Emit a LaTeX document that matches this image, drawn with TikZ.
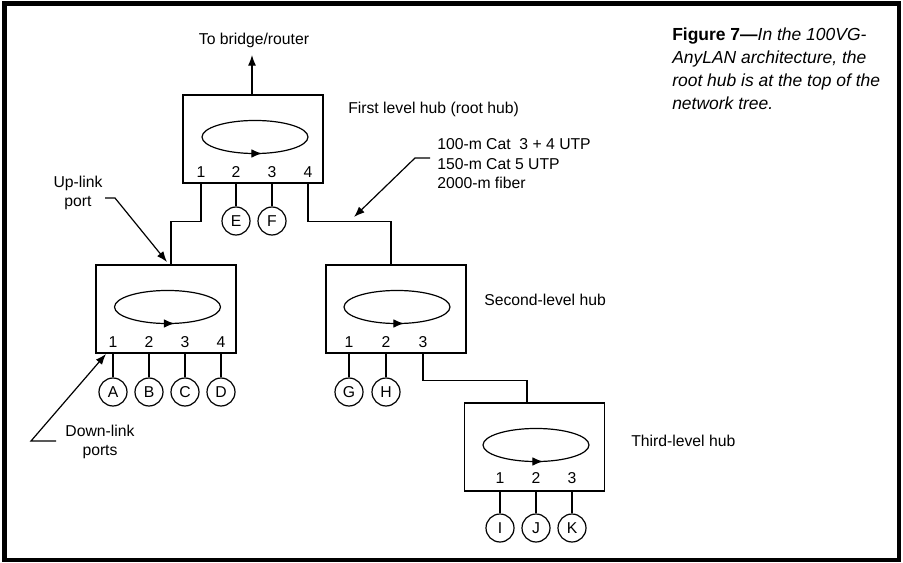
\documentclass[tikz,border=0pt]{standalone}
\usepackage{fontspec}
\setmainfont{Liberation Sans}
\usetikzlibrary{arrows.meta}
\begin{document}
\begin{tikzpicture}[x=0.75pt,y=-0.75pt,
  wire/.style={line width=0.9pt},
  hubbox/.style={draw,line width=0.9pt,minimum width=105pt,minimum height=66pt,inner sep=0pt},
  station/.style={draw,circle,line width=0.9pt,minimum size=21pt,inner sep=0pt,font=\fontsize{11.8}{14}\selectfont},
  lbl/.style={font=\fontsize{11.8}{14.25}\selectfont,inner sep=0pt},
  portno/.style={font=\fontsize{11.8}{14}\selectfont,inner sep=0pt},
  ring/.style={line width=0.9pt},
  tipped/.style={line width=0.9pt,-{Latex[length=8pt,width=6pt]}},
  ringtip/.style={line width=0.9pt,-{Latex[length=8pt,width=6.5pt]}},
  capline/.style={anchor=base west,inner sep=0pt,font=\fontsize{13.1}{17}\selectfont},
]
\useasboundingbox (0,0) rectangle (903,563);
% outer frame
\draw[line width=3.2pt] (4.5,3.5) rectangle (899,560);

% ---- hubs ----
\node[hubbox] (R) at (253,139) {};
\node[hubbox] (L) at (166,309) {};
\node[hubbox] (M) at (396,309) {};
\node[hubbox] (T) at (534.5,447) {};

% rings with direction arrows
\draw[ring] (255,137) ellipse [x radius=39.75pt, y radius=12.4pt];
\draw[ringtip] (248,153.5) -- (262,153.5);
\draw[ring] (167.5,307) ellipse [x radius=39.75pt, y radius=12.4pt];
\draw[ringtip] (160.5,323.5) -- (174.5,323.5);
\draw[ring] (397,307) ellipse [x radius=39.75pt, y radius=12.4pt];
\draw[ringtip] (390,323.5) -- (404,323.5);
\draw[ring] (536,445) ellipse [x radius=39.75pt, y radius=12.4pt];
\draw[ringtip] (529,461.5) -- (543,461.5);

% port numbers
\node[portno] (R1) at (201,172) {1};
\node[portno] (R2) at (236,172) {2};
\node[portno] (R3) at (272,172) {3};
\node[portno] (R4) at (308,172) {4};
\node[portno] (L1) at (113,342) {1};
\node[portno] (L2) at (149,342) {2};
\node[portno] (L3) at (185,342) {3};
\node[portno] (L4) at (221,342) {4};
\node[portno] (M1) at (349,342) {1};
\node[portno] (M2) at (386,342) {2};
\node[portno] (M3) at (423,342) {3};
\node[portno] (T1) at (500,478) {1};
\node[portno] (T2) at (536,478) {2};
\node[portno] (T3) at (572,478) {3};

% end stations
\node[station] (E) at (236,221) {E};
\node[station] (F) at (272,221) {F};
\node[station] (A) at (113,392) {A};
\node[station] (B) at (149,392) {B};
\node[station] (C) at (185,392) {C};
\node[station] (D) at (221,392) {D};
\node[station] (G) at (349,392) {G};
\node[station] (H) at (386,392) {H};
\node[station] (I) at (500,528) {I};
\node[station] (J) at (536,528) {J};
\node[station] (K) at (572,528) {K};

\draw[wire] (R2 |- R.south) -- (E.north);
\draw[wire] (R3 |- R.south) -- (F.north);
\draw[wire] (L1 |- L.south) -- (A.north);
\draw[wire] (L2 |- L.south) -- (B.north);
\draw[wire] (L3 |- L.south) -- (C.north);
\draw[wire] (L4 |- L.south) -- (D.north);
\draw[wire] (M1 |- M.south) -- (G.north);
\draw[wire] (M2 |- M.south) -- (H.north);
\draw[wire] (T1 |- T.south) -- (I.north);
\draw[wire] (T2 |- T.south) -- (J.north);
\draw[wire] (T3 |- T.south) -- (K.north);

% links between hubs
\coordinate (Lup) at (171,265);
\coordinate (Mup) at (391,265);
\coordinate (Tup) at (527,403);
\draw[wire] (R1 |- R.south) -- ++(0,38) -| (Lup);
\draw[wire] (R4 |- R.south) -- ++(0,38) -| (Mup);
\draw[wire] (M3 |- M.south) -- ++(0,27) -| (Tup);

% link to bridge/router
\coordinate (out) at (252,55);
\draw[tipped] (R.north -| out) -- (out);
\node[lbl] (rtr) at (254,40) {To bridge/router};

% hub labels
\node[lbl,anchor=west] (rootlbl) at (348,109) {First level hub (root hub)};
\node[lbl,anchor=west] (seclbl) at (484,300) {Second-level hub};
\node[lbl,anchor=west] (thirdlbl) at (631,441) {Third-level hub};

% cable types
\node[lbl,anchor=base west] (cab1) at (437,150) {100-m Cat\ \ 3 + 4 UTP};
\node[lbl,anchor=base west] (cab2) at (437,169.5) {150-m Cat 5 UTP};
\node[lbl,anchor=base west] (cab3) at (437,189) {2000-m fiber};
\coordinate (cabs) at (430,158);
\coordinate (cabt) at (354,217);
\draw[tipped] (cabs) -- (415,158) -- (cabt);

% up-link port
\node[lbl,align=center] (uplbl) at (78,192.5) {Up-link\\port};
\coordinate (ups) at (105,198);
\coordinate (upt) at (167,262);
\draw[tipped] (ups) -- (115,198) -- (upt);

% down-link ports
\node[lbl,align=center] (dnlbl) at (100,441.5) {Down-link\\ports};
\coordinate (dns) at (56,441);
\coordinate (dnt) at (106,354);
\draw[tipped] (dns) -- (31,441) -- (dnt);

% caption
\node[capline] (cap1) at (672,41) {\textbf{Figure 7—}\textit{In the 100VG-}};
\node[capline] (cap2) at (672,64) {\textit{AnyLAN architecture, the}};
\node[capline] (cap3) at (672,87) {\textit{root hub is at the top of the}};
\node[capline] (cap4) at (672,110) {\textit{network tree.}};
\end{tikzpicture}
\end{document}
